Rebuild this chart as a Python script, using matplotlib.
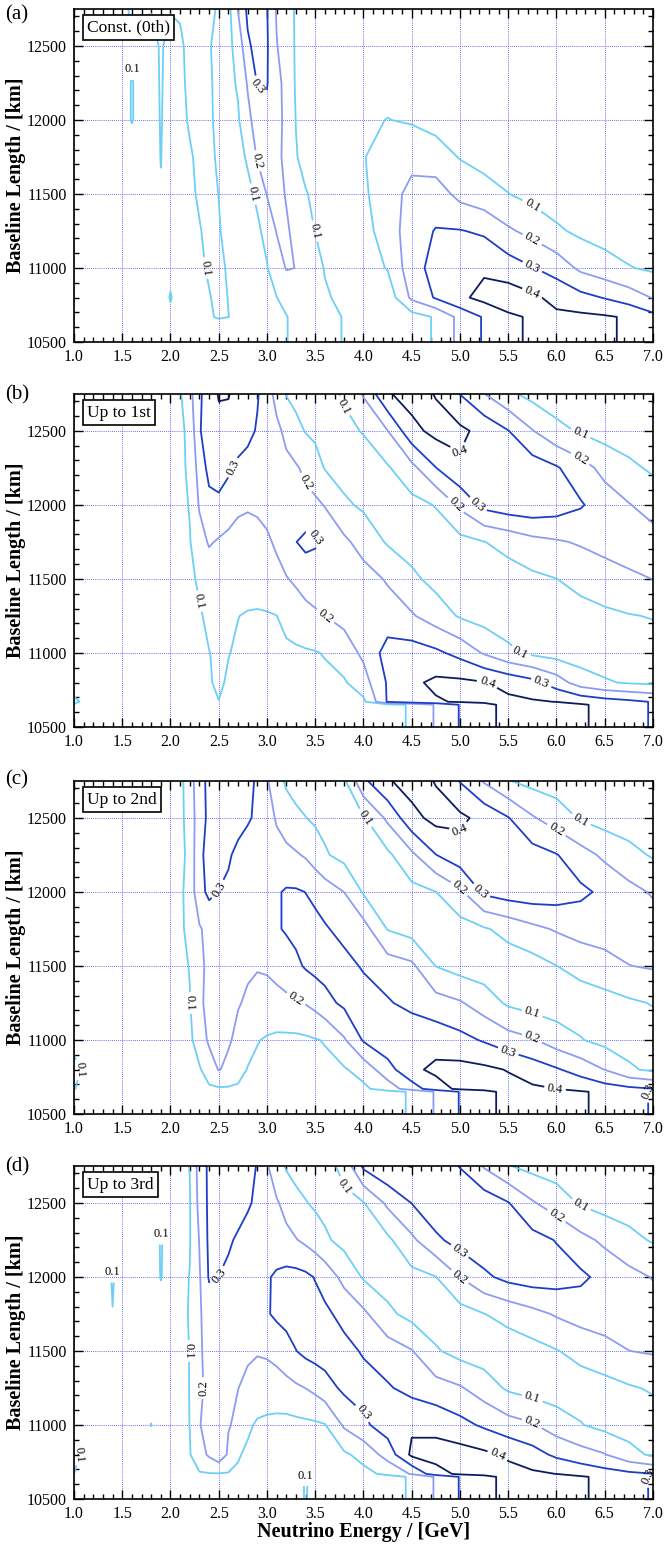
import numpy as np
import matplotlib.pyplot as plt
from matplotlib.ticker import MultipleLocator, FormatStrFormatter

plt.rcParams['font.family'] = ['Liberation Serif', 'DejaVu Serif']

# grid of the maps: energy columns [GeV] and baseline rows [km]
energy = [1.0, 1.2, 1.4, 1.6, 1.8, 1.9,
          2.0, 2.1, 2.2, 2.3, 2.4, 2.5, 2.6, 2.7, 2.8, 2.9,
          3.0, 3.1, 3.2, 3.3, 3.4, 3.5, 3.6, 3.8,
          4.0, 4.25, 4.5, 4.75, 5.0, 5.25, 5.5, 5.75, 6.0, 6.25, 6.5, 6.75, 7.0]
# rows below 10660 km (path not crossing the core) share one strip array
baseline = [10500, 10650, 10670, 10800, 11000, 11250, 11500, 11750, 12000, 12250, 12500, 12750]

levels = [0.1, 0.2, 0.3, 0.4]
line_colors = ['#6ecff6', '#8c9cf2', '#1d3ec6', '#0c1d5e']

# (a) constant density
strip_a = [0.03, 0.03, 0.03, 0.04, 0.05, 0.05,
           0.06, 0.06, 0.07, 0.08, 0.09, 0.095, 0.09, 0.08, 0.07, 0.06,
           0.06, 0.07, 0.095, 0.13, 0.15, 0.15, 0.13, 0.095,
           0.07, 0.05, 0.06, 0.11, 0.23, 0.31, 0.385, 0.41, 0.42, 0.42, 0.41, 0.39, 0.33]
core_a = [
    [0.03, 0.03, 0.03, 0.04, 0.05, 0.05,
     0.085, 0.06, 0.07, 0.08, 0.09, 0.11, 0.101, 0.08, 0.07, 0.06,
     0.06, 0.07, 0.095, 0.13, 0.15, 0.15, 0.13, 0.095,
     0.07, 0.05, 0.06, 0.11, 0.23, 0.31, 0.385, 0.41, 0.42, 0.42, 0.41, 0.39, 0.33],
    [0.03, 0.03, 0.03, 0.04, 0.05, 0.06,
     0.105, 0.065, 0.07, 0.08, 0.095, 0.12, 0.098, 0.08, 0.07, 0.07,
     0.08, 0.098, 0.14, 0.18, 0.17, 0.15, 0.11, 0.08,
     0.06, 0.04, 0.22, 0.31, 0.38, 0.43, 0.45, 0.42, 0.37, 0.33, 0.295, 0.25, 0.195],
    [0.03, 0.03, 0.04, 0.05, 0.06, 0.06,
     0.08, 0.07, 0.075, 0.085, 0.11, 0.12, 0.09, 0.075, 0.07, 0.075,
     0.095, 0.15, 0.205, 0.199, 0.17, 0.13, 0.095, 0.07,
     0.06, 0.105, 0.26, 0.335, 0.38, 0.385, 0.35, 0.305, 0.26, 0.18, 0.14, 0.105, 0.085],
    [0.03, 0.03, 0.04, 0.05, 0.06, 0.06,
     0.065, 0.07, 0.08, 0.095, 0.12, 0.105, 0.08, 0.07, 0.075, 0.085,
     0.125, 0.205, 0.21, 0.18, 0.13, 0.098, 0.08, 0.065,
     0.07, 0.14, 0.26, 0.305, 0.305, 0.285, 0.215, 0.17, 0.115, 0.08, 0.06, 0.05, 0.04],
    [0.03, 0.03, 0.04, 0.05, 0.06, 0.095,
     0.065, 0.07, 0.085, 0.11, 0.12, 0.099, 0.075, 0.07, 0.08, 0.115,
     0.205, 0.225, 0.195, 0.15, 0.105, 0.085, 0.07, 0.06,
     0.085, 0.155, 0.23, 0.25, 0.17, 0.135, 0.102, 0.07, 0.05, 0.04, 0.035, 0.03, 0.03],
    [0.03, 0.03, 0.04, 0.07, 0.06, 0.102,
     0.065, 0.07, 0.09, 0.12, 0.115, 0.09, 0.07, 0.075, 0.11, 0.21,
     0.25, 0.23, 0.17, 0.105, 0.075, 0.06, 0.055, 0.06,
     0.095, 0.15, 0.17, 0.14, 0.095, 0.07, 0.05, 0.04, 0.035, 0.03, 0.03, 0.03, 0.03],
    [0.03, 0.03, 0.05, 0.103, 0.06, 0.105,
     0.065, 0.075, 0.11, 0.13, 0.11, 0.085, 0.07, 0.09, 0.17, 0.25,
     0.28, 0.24, 0.17, 0.098, 0.07, 0.055, 0.05, 0.05,
     0.085, 0.102, 0.09, 0.07, 0.05, 0.04, 0.035, 0.03, 0.03, 0.03, 0.03, 0.03, 0.03],
    [0.03, 0.04, 0.05, 0.103, 0.06, 0.108,
     0.065, 0.08, 0.12, 0.14, 0.11, 0.08, 0.075, 0.11, 0.21, 0.305,
     0.305, 0.23, 0.17, 0.09, 0.065, 0.05, 0.05, 0.05,
     0.06, 0.07, 0.06, 0.05, 0.04, 0.035, 0.03, 0.03, 0.03, 0.03, 0.03, 0.03, 0.03],
    [0.03, 0.04, 0.05, 0.095, 0.065, 0.11,
     0.07, 0.085, 0.125, 0.14, 0.105, 0.08, 0.08, 0.13, 0.285, 0.33,
     0.31, 0.205, 0.15, 0.09, 0.06, 0.05, 0.045, 0.04,
     0.04, 0.045, 0.04, 0.035, 0.03, 0.03, 0.03, 0.03, 0.03, 0.03, 0.03, 0.03, 0.03],
    [0.03, 0.04, 0.08, 0.105, 0.105, 0.12,
     0.105, 0.11, 0.13, 0.14, 0.12, 0.09, 0.07, 0.205, 0.32, 0.36,
     0.305, 0.19, 0.14, 0.09, 0.06, 0.05, 0.045, 0.04,
     0.04, 0.04, 0.035, 0.03, 0.03, 0.03, 0.03, 0.03, 0.03, 0.03, 0.03, 0.03, 0.03],
]

# (b) up to 1st order
strip_b = [0.09, 0.05, 0.045, 0.045, 0.05, 0.05,
           0.055, 0.06, 0.06, 0.065, 0.07, 0.075, 0.07, 0.065, 0.06, 0.055,
           0.05, 0.05, 0.05, 0.05, 0.05, 0.05, 0.05, 0.05,
           0.055, 0.07, 0.11, 0.21, 0.305, 0.37, 0.43, 0.45, 0.44, 0.41, 0.38, 0.34, 0.29]
core_b = [
    [0.12, 0.05, 0.045, 0.05, 0.055, 0.06,
     0.06, 0.065, 0.07, 0.08, 0.09, 0.098, 0.08, 0.065, 0.06, 0.055,
     0.055, 0.055, 0.055, 0.055, 0.06, 0.06, 0.065, 0.07,
     0.08, 0.31, 0.37, 0.39, 0.41, 0.42, 0.42, 0.41, 0.398, 0.37, 0.34, 0.32, 0.295],
    [0.05, 0.04, 0.045, 0.05, 0.055, 0.06,
     0.06, 0.065, 0.07, 0.08, 0.09, 0.12, 0.085, 0.07, 0.065, 0.06,
     0.06, 0.06, 0.06, 0.065, 0.07, 0.075, 0.08, 0.09,
     0.16, 0.31, 0.38, 0.42, 0.42, 0.405, 0.37, 0.33, 0.25, 0.15, 0.11, 0.09, 0.08],
    [0.04, 0.04, 0.045, 0.05, 0.055, 0.06,
     0.06, 0.065, 0.07, 0.08, 0.098, 0.115, 0.104, 0.085, 0.075, 0.07,
     0.07, 0.075, 0.08, 0.085, 0.09, 0.095, 0.105, 0.15,
     0.22, 0.34, 0.345, 0.32, 0.27, 0.19, 0.12, 0.08, 0.06, 0.05, 0.05, 0.05, 0.055],
    [0.04, 0.04, 0.045, 0.05, 0.055, 0.06,
     0.06, 0.065, 0.075, 0.09, 0.12, 0.13, 0.12, 0.102, 0.09, 0.085,
     0.09, 0.099, 0.13, 0.15, 0.17, 0.185, 0.199, 0.23,
     0.25, 0.245, 0.21, 0.15, 0.09, 0.06, 0.05, 0.05, 0.055, 0.065, 0.08, 0.095, 0.105],
    [0.04, 0.04, 0.045, 0.05, 0.055, 0.06,
     0.06, 0.065, 0.08, 0.115, 0.14, 0.15, 0.155, 0.16, 0.16, 0.165,
     0.17, 0.18, 0.195, 0.215, 0.24, 0.255, 0.26, 0.255,
     0.24, 0.19, 0.12, 0.07, 0.05, 0.05, 0.06, 0.08, 0.099, 0.13, 0.16, 0.185, 0.201],
    [0.04, 0.04, 0.05, 0.05, 0.06, 0.06,
     0.065, 0.07, 0.095, 0.16, 0.21, 0.19, 0.18, 0.18, 0.18, 0.18,
     0.19, 0.21, 0.25, 0.298, 0.325, 0.31, 0.27, 0.22,
     0.16, 0.09, 0.06, 0.05, 0.07, 0.098, 0.13, 0.17, 0.19, 0.21, 0.23, 0.24, 0.24],
    [0.04, 0.04, 0.05, 0.05, 0.06, 0.06,
     0.065, 0.075, 0.105, 0.21, 0.27, 0.28, 0.24, 0.21, 0.205, 0.21,
     0.22, 0.23, 0.25, 0.24, 0.23, 0.22, 0.195, 0.115,
     0.085, 0.065, 0.07, 0.105, 0.22, 0.33, 0.36, 0.37, 0.35, 0.31, 0.25, 0.205, 0.16],
    [0.04, 0.04, 0.05, 0.05, 0.06, 0.06,
     0.065, 0.075, 0.12, 0.24, 0.33, 0.34, 0.32, 0.28, 0.26, 0.25,
     0.24, 0.23, 0.22, 0.21, 0.18, 0.14, 0.095, 0.065,
     0.06, 0.09, 0.17, 0.298, 0.385, 0.397, 0.38, 0.35, 0.31, 0.24, 0.17, 0.12, 0.085],
    [0.04, 0.04, 0.05, 0.05, 0.06, 0.06,
     0.07, 0.075, 0.13, 0.29, 0.36, 0.38, 0.37, 0.35, 0.33, 0.29,
     0.25, 0.22, 0.18, 0.13, 0.095, 0.08, 0.075, 0.08,
     0.105, 0.198, 0.37, 0.43, 0.42, 0.37, 0.303, 0.205, 0.125, 0.09, 0.06, 0.05, 0.04],
    [0.04, 0.04, 0.05, 0.05, 0.06, 0.06,
     0.07, 0.09, 0.17, 0.28, 0.36, 0.405, 0.405, 0.37, 0.34, 0.31,
     0.24, 0.17, 0.095, 0.07, 0.06, 0.06, 0.07, 0.11,
     0.21, 0.39, 0.44, 0.395, 0.298, 0.202, 0.12, 0.07, 0.05, 0.04, 0.04, 0.035, 0.03],
]

# (c) up to 2nd order
strip_c = [0.08, 0.05, 0.045, 0.045, 0.05, 0.05,
           0.055, 0.06, 0.06, 0.065, 0.07, 0.075, 0.07, 0.065, 0.06, 0.055,
           0.05, 0.05, 0.05, 0.05, 0.05, 0.05, 0.05, 0.05,
           0.055, 0.07, 0.11, 0.21, 0.305, 0.37, 0.43, 0.45, 0.44, 0.41, 0.38, 0.34, 0.29]
core_c = [
    [0.105, 0.04, 0.045, 0.05, 0.055, 0.06,
     0.06, 0.065, 0.07, 0.075, 0.085, 0.09, 0.09, 0.085, 0.075, 0.07,
     0.065, 0.06, 0.06, 0.06, 0.06, 0.06, 0.065, 0.07,
     0.08, 0.15, 0.25, 0.36, 0.42, 0.43, 0.43, 0.415, 0.399, 0.37, 0.34, 0.32, 0.302],
    [0.13, 0.04, 0.045, 0.05, 0.055, 0.06,
     0.06, 0.065, 0.075, 0.09, 0.15, 0.205, 0.18, 0.14, 0.095, 0.08,
     0.07, 0.065, 0.065, 0.065, 0.07, 0.075, 0.08, 0.09,
     0.14, 0.26, 0.38, 0.42, 0.43, 0.42, 0.395, 0.35, 0.31, 0.26, 0.198, 0.115, 0.08],
    [0.07, 0.04, 0.045, 0.05, 0.055, 0.06,
     0.06, 0.065, 0.08, 0.15, 0.215, 0.22, 0.21, 0.18, 0.14, 0.105,
     0.09, 0.08, 0.08, 0.08, 0.085, 0.095, 0.105, 0.19,
     0.31, 0.37, 0.38, 0.36, 0.33, 0.29, 0.24, 0.21, 0.15, 0.105, 0.07, 0.06, 0.055],
    [0.04, 0.04, 0.045, 0.05, 0.055, 0.06,
     0.06, 0.07, 0.095, 0.19, 0.215, 0.22, 0.215, 0.205, 0.19, 0.175,
     0.17, 0.175, 0.18, 0.19, 0.205, 0.23, 0.27, 0.32,
     0.345, 0.31, 0.27, 0.24, 0.21, 0.15, 0.085, 0.06, 0.05, 0.055, 0.065, 0.085, 0.105],
    [0.04, 0.04, 0.045, 0.05, 0.055, 0.06,
     0.06, 0.07, 0.105, 0.18, 0.22, 0.225, 0.22, 0.215, 0.21, 0.205,
     0.21, 0.225, 0.25, 0.28, 0.31, 0.33, 0.335, 0.33,
     0.29, 0.25, 0.22, 0.098, 0.06, 0.05, 0.05, 0.06, 0.099, 0.13, 0.16, 0.198, 0.21],
    [0.04, 0.04, 0.045, 0.05, 0.055, 0.06,
     0.065, 0.08, 0.13, 0.19, 0.23, 0.24, 0.24, 0.24, 0.245, 0.25,
     0.26, 0.29, 0.31, 0.325, 0.33, 0.325, 0.31, 0.27,
     0.24, 0.095, 0.06, 0.05, 0.06, 0.09, 0.13, 0.175, 0.21, 0.24, 0.25, 0.25, 0.245],
    [0.04, 0.04, 0.05, 0.05, 0.06, 0.06,
     0.065, 0.08, 0.14, 0.27, 0.32, 0.298, 0.285, 0.27, 0.26, 0.26,
     0.27, 0.29, 0.31, 0.31, 0.299, 0.28, 0.25, 0.199,
     0.09, 0.06, 0.07, 0.099, 0.18, 0.32, 0.35, 0.36, 0.35, 0.32, 0.28, 0.23, 0.19],
    [0.04, 0.04, 0.05, 0.05, 0.06, 0.06,
     0.065, 0.07, 0.13, 0.28, 0.33, 0.33, 0.31, 0.28, 0.26, 0.25,
     0.24, 0.235, 0.225, 0.21, 0.19, 0.15, 0.11, 0.07,
     0.06, 0.08, 0.18, 0.298, 0.36, 0.385, 0.37, 0.34, 0.305, 0.24, 0.18, 0.13, 0.09],
    [0.04, 0.04, 0.05, 0.05, 0.06, 0.06,
     0.065, 0.075, 0.14, 0.26, 0.32, 0.34, 0.34, 0.33, 0.31, 0.285,
     0.24, 0.19, 0.15, 0.12, 0.102, 0.085, 0.075, 0.075,
     0.09, 0.22, 0.37, 0.43, 0.42, 0.37, 0.305, 0.21, 0.15, 0.09, 0.06, 0.05, 0.045],
    [0.04, 0.04, 0.05, 0.05, 0.06, 0.06,
     0.065, 0.075, 0.15, 0.27, 0.32, 0.34, 0.35, 0.34, 0.32, 0.29,
     0.21, 0.14, 0.085, 0.065, 0.055, 0.055, 0.06, 0.085,
     0.28, 0.39, 0.44, 0.395, 0.295, 0.19, 0.105, 0.07, 0.055, 0.05, 0.045, 0.04, 0.04],
]

# (d) up to 3rd order
strip_d = [0.08, 0.05, 0.045, 0.045, 0.05, 0.05,
           0.055, 0.06, 0.06, 0.065, 0.07, 0.075, 0.07, 0.065, 0.06, 0.055,
           0.05, 0.05, 0.05, 0.05, 0.11, 0.05, 0.05, 0.05,
           0.055, 0.07, 0.11, 0.21, 0.305, 0.37, 0.43, 0.45, 0.44, 0.41, 0.38, 0.34, 0.29]
core_d = [
    [0.101, 0.04, 0.045, 0.05, 0.055, 0.06,
     0.06, 0.07, 0.08, 0.092, 0.095, 0.095, 0.093, 0.085, 0.075, 0.07,
     0.065, 0.06, 0.06, 0.06, 0.07, 0.06, 0.06, 0.065,
     0.075, 0.12, 0.21, 0.36, 0.42, 0.43, 0.43, 0.415, 0.399, 0.37, 0.34, 0.32, 0.302],
    [0.12, 0.04, 0.045, 0.05, 0.055, 0.06,
     0.06, 0.07, 0.095, 0.16, 0.215, 0.27, 0.185, 0.11, 0.08, 0.07,
     0.065, 0.06, 0.06, 0.06, 0.065, 0.07, 0.075, 0.085,
     0.13, 0.24, 0.42, 0.44, 0.44, 0.42, 0.385, 0.34, 0.28, 0.24, 0.205, 0.13, 0.085],
    [0.07, 0.04, 0.045, 0.05, 0.102, 0.06,
     0.06, 0.07, 0.101, 0.198, 0.215, 0.215, 0.205, 0.185, 0.12, 0.085,
     0.075, 0.07, 0.07, 0.075, 0.08, 0.085, 0.095, 0.215,
     0.28, 0.35, 0.385, 0.37, 0.33, 0.285, 0.24, 0.21, 0.15, 0.105, 0.07, 0.06, 0.055],
    [0.04, 0.04, 0.045, 0.05, 0.055, 0.06,
     0.065, 0.075, 0.102, 0.19, 0.215, 0.22, 0.215, 0.201, 0.185, 0.17,
     0.165, 0.165, 0.17, 0.185, 0.201, 0.225, 0.26, 0.32,
     0.34, 0.31, 0.27, 0.24, 0.21, 0.15, 0.085, 0.06, 0.05, 0.055, 0.065, 0.09, 0.11],
    [0.04, 0.04, 0.05, 0.05, 0.055, 0.06,
     0.065, 0.075, 0.102, 0.19, 0.225, 0.23, 0.225, 0.22, 0.21, 0.205,
     0.21, 0.225, 0.26, 0.298, 0.325, 0.34, 0.345, 0.33,
     0.29, 0.25, 0.205, 0.11, 0.065, 0.05, 0.05, 0.065, 0.095, 0.13, 0.165, 0.199, 0.21],
    [0.04, 0.045, 0.099, 0.05, 0.06, 0.07,
     0.07, 0.08, 0.105, 0.19, 0.24, 0.25, 0.25, 0.25, 0.255, 0.26,
     0.29, 0.32, 0.335, 0.34, 0.34, 0.335, 0.32, 0.27,
     0.22, 0.12, 0.07, 0.05, 0.06, 0.098, 0.13, 0.17, 0.21, 0.24, 0.25, 0.25, 0.245],
    [0.04, 0.045, 0.104, 0.05, 0.06, 0.103,
     0.07, 0.08, 0.102, 0.19, 0.31, 0.299, 0.285, 0.27, 0.265, 0.27,
     0.29, 0.315, 0.33, 0.33, 0.32, 0.295, 0.26, 0.17,
     0.09, 0.06, 0.07, 0.098, 0.202, 0.28, 0.33, 0.35, 0.345, 0.32, 0.27, 0.23, 0.195],
    [0.04, 0.04, 0.075, 0.05, 0.06, 0.105,
     0.07, 0.075, 0.095, 0.205, 0.32, 0.33, 0.31, 0.29, 0.27, 0.26,
     0.25, 0.24, 0.225, 0.205, 0.18, 0.15, 0.115, 0.07,
     0.06, 0.08, 0.18, 0.28, 0.34, 0.37, 0.36, 0.335, 0.295, 0.23, 0.18, 0.13, 0.09],
    [0.04, 0.04, 0.05, 0.05, 0.06, 0.075,
     0.07, 0.075, 0.095, 0.23, 0.32, 0.34, 0.34, 0.33, 0.31, 0.285,
     0.24, 0.21, 0.17, 0.13, 0.105, 0.085, 0.075, 0.075,
     0.095, 0.22, 0.302, 0.37, 0.385, 0.36, 0.305, 0.21, 0.15, 0.09, 0.06, 0.05, 0.045],
    [0.04, 0.04, 0.05, 0.05, 0.06, 0.065,
     0.07, 0.075, 0.102, 0.24, 0.32, 0.34, 0.35, 0.345, 0.33, 0.295,
     0.21, 0.14, 0.09, 0.065, 0.055, 0.055, 0.06, 0.13,
     0.32, 0.385, 0.403, 0.36, 0.295, 0.19, 0.105, 0.07, 0.055, 0.05, 0.045, 0.04, 0.04],
]

panels = [
    ('(a)', 'Const. (0th)', strip_a, core_a),
    ('(b)', 'Up to 1st', strip_b, core_b),
    ('(c)', 'Up to 2nd', strip_c, core_c),
    ('(d)', 'Up to 3rd', strip_d, core_d),
]
axes_bottom = [0.7789, 0.5301, 0.2799, 0.0310]
letter_top = [0.9968, 0.7511, 0.5023, 0.2521]

fig = plt.figure(figsize=(6.64, 15.47), dpi=100)

for i, (letter, tag, strip, core) in enumerate(panels):
    ax = fig.add_axes([0.1114, axes_bottom[i], 0.872, 0.2153])
    z = np.array([strip, strip] + core)
    cs = ax.contour(energy, baseline, z, levels=levels, colors=line_colors,
                    linewidths=1.3)
    ax.clabel(cs, fmt='%.1f', fontsize=9, colors='black', inline=True,
              inline_spacing=3)

    ax.set_xlim(1.0, 7.0)
    ax.set_ylim(10500, 12750)
    ax.xaxis.set_major_locator(MultipleLocator(0.5))
    ax.xaxis.set_minor_locator(MultipleLocator(0.1))
    ax.xaxis.set_major_formatter(FormatStrFormatter('%.1f'))
    ax.yaxis.set_major_locator(MultipleLocator(500))
    ax.yaxis.set_minor_locator(MultipleLocator(100))
    ax.tick_params(which='both', direction='in', top=True, right=True,
                   labelsize=11.5, width=1.0)
    ax.tick_params(which='major', length=6.5, pad=5)
    ax.tick_params(which='minor', length=3.5)
    ax.set_axisbelow(True)
    ax.grid(True, which='major', color='#3a3aff', linestyle=(0, (1, 1.5)),
            linewidth=0.6)
    for s in ax.spines.values():
        s.set_linewidth(1.2)

    ax.set_ylabel('Baseline Length / [km]', fontsize=14.5, fontweight='bold')
    ax.yaxis.set_label_coords(-0.083, 0.5)
    ax.text(0.0225, 0.968, tag, transform=ax.transAxes, fontsize=12.5,
            ha='left', va='top',
            bbox=dict(boxstyle='square,pad=0.25', fc='white', ec='black', lw=1.2))
    fig.text(0.0075, letter_top[i], letter, fontsize=15, ha='left', va='top')

ax.set_xlabel('Neutrino Energy / [GeV]', fontsize=14.5, fontweight='bold')
ax.xaxis.set_label_coords(0.5, -0.07)

fig.savefig('out.png', dpi=100)
